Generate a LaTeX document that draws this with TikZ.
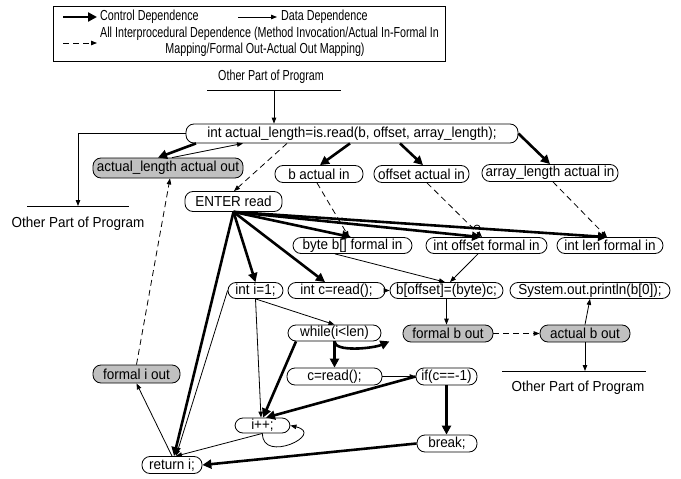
\documentclass[tikz,border=0pt]{standalone}
\usepackage{fontspec}
\setmainfont{Liberation Sans}
\newfontfamily\nodefnt[FakeStretch=0.93]{Liberation Sans}
\newfontfamily\legfont[FakeStretch=0.74]{Liberation Sans}
\usetikzlibrary{arrows.meta,calc}
\definecolor{ngray}{RGB}{192,192,192}
\begin{document}
\begin{tikzpicture}[x=1pt,y=-1pt,
  nf/.style={font=\nodefnt\fontsize{14.5}{16}\selectfont},
  lf/.style={font=\legfont\fontsize{14.5}{16}\selectfont},
  pn/.style={draw,line width=0.8pt,rounded corners=8pt,minimum height=17pt,inner xsep=2pt,inner ysep=0pt,nf},
  gn/.style={pn,fill=ngray},
  ctl/.style={line width=2.6pt,-{Triangle[length=9pt,width=9pt]}},
  dat/.style={line width=0.8pt,-{Triangle[length=6pt,width=4.5pt]}},
  ipd/.style={line width=0.8pt,dash pattern=on 6pt off 4pt,-{Triangle[length=6pt,width=4.5pt]}},
  bar/.style={line width=0.8pt}]
\useasboundingbox (0,0) rectangle (681,479);
% legend
\node[draw,line width=0.8pt,minimum width=392pt,minimum height=55pt,inner sep=0pt] (leg) at (249,33.5) {};
\coordinate (la1) at (63,17); \coordinate (lb1) at (97,17);
\coordinate (la2) at (238,17); \coordinate (lb2) at (277,17);
\coordinate (la3) at (63,43); \coordinate (lb3) at (97,43);
\draw[ctl] (la1) -- (lb1);
\draw[dat] (la2) -- (lb2);
\draw[ipd] (la3) -- (lb3);
\node[lf,anchor=west,inner sep=0pt] (t1) at (100,17) {Control Dependence};
\node[lf,anchor=west,inner sep=0pt] (t2) at (281,17) {Data Dependence};
\node[lf,anchor=west,inner sep=0pt] (t3) at (100,34) {All Interprocedural Dependence (Method Invocation/Actual In-Formal In};
\node[lf,inner sep=0pt] (t4) at (265,50) {Mapping/Formal Out-Actual Out Mapping)};
% other parts of program
\node[lf,inner sep=0pt] (op1) at (271,77) {Other Part of Program};
\coordinate (op1a) at (207,90); \coordinate (op1b) at (341,90); \coordinate (op1m) at (274,90);
\draw[bar] (op1a) -- (op1b);
\node[nf,inner sep=0pt] (op2) at (78,224) {Other Part of Program};
\coordinate (op2a) at (27,206); \coordinate (op2b) at (129,206); \coordinate (op2m) at (78,206);
\draw[bar] (op2a) -- (op2b);
\node[nf,inner sep=0pt] (op3) at (578,388) {Other Part of Program};
\coordinate (op3a) at (502,371); \coordinate (op3b) at (646,371);
\draw[bar] (op3a) -- (op3b);
% nodes
\node[pn,minimum width=332pt,minimum height=19pt] (call) at (352,133.5) {int actual\_length=is.read(b, offset, array\_length);};
\node[gn,minimum width=150pt,minimum height=20pt] (alout) at (168,168) {actual\_length actual out};
\node[pn,minimum width=88pt] (bai) at (319,174) {b actual in};
\node[pn,minimum width=95pt] (oai) at (421.5,174) {offset actual in};
\node[pn,minimum width=136pt] (aai) at (550,173) {array\_length actual in};
\node[pn,minimum width=97pt,minimum height=20pt] (enter) at (233.5,201.5) {ENTER read};
\node[pn,minimum width=119pt,minimum height=16pt] (bfi) at (352.5,245.5) {byte b[] formal in};
\node[pn,minimum width=121pt,minimum height=16pt] (ofi) at (486.5,245.5) {int offset formal in};
\node[pn,minimum width=106pt,minimum height=16pt] (lfi) at (610,245.5) {int len formal in};
\node[pn,minimum width=55pt,minimum height=16pt] (i1) at (255.5,290.5) {int i=1;};
\node[pn,minimum width=97pt,minimum height=16pt] (cr1) at (336.5,290.5) {int c=read();};
\node[pn,minimum width=113pt,minimum height=16pt] (boff) at (446.5,290.5) {b[offset]=(byte)c;};
\node[pn,minimum width=160pt,minimum height=16pt] (sys) at (590,290.5) {System.out.println(b[0]);};
\node[pn,minimum width=93pt,minimum height=16pt] (wh) at (334.5,333) {while(i<len)};
\node[gn,minimum width=90pt] (fbo) at (448,333.5) {formal b out};
\node[gn,minimum width=90pt] (abo) at (585,333.5) {actual b out};
\node[pn,minimum width=95pt] (cr2) at (334.5,376.5) {c=read();};
\node[pn,minimum width=61pt] (ifn) at (446.5,376.5) {if(c==-1)};
\node[pn,minimum width=55pt,minimum height=15pt] (ipp) at (262.5,425.5) {i++;};
\node[pn,minimum width=60pt] (brk) at (447,443.5) {break;};
\node[pn,minimum width=60pt] (ret) at (172,465) {return i;};
\node[gn,minimum width=87pt,minimum height=18pt] (fio) at (136.5,374) {formal i out};
% data dependence (thin)
\draw[dat] (op1m) -- (op1m |- call.north);
\draw[dat] (call.west) -| (op2m);
\draw[dat] (172,0 |- alout.north) -- (243,0 |- call.south);
\draw[dat] (i1.south) -- (wh.north);
\draw[dat] (i1.south) -- (261,0 |- ipp.north);
\draw[dat] (i1.west) -- (176,0 |- ret.north);
\draw[dat] (ipp.south) -- (176,0 |- ret.north);
\draw[dat] (ret.north) -- (fio.south);
\draw[dat] (ipp.south) .. controls (262,464) and (326,434) .. (ipp.east);
\draw[dat] (cr2.east) -- (ifn.west);
\draw[dat] (cr1.east) -- (boff.west);
\draw[dat] (335,0 |- bfi.south) -- (445,0 |- boff.north);
\draw[dat] (478,0 |- ofi.south) -- (450,0 |- boff.north);
\draw[dat] (boff.south) -- (boff.south |- fbo.north);
\draw[dat] (abo.north) -- (590,0 |- sys.south);
\draw[dat] (abo.south) -- (abo.south |- op3a);
% interprocedural (dashed)
\draw[ipd] (287,0 |- call.south) -- (234,0 |- enter.north);
\draw[ipd] (317,0 |- bai.south) -- (349,0 |- bfi.north);
\draw[ipd] (427,0 |- oai.south) -- (482,0 |- ofi.north);
\draw[ipd] (553,0 |- aai.south) -- (607,0 |- lfi.north);
\draw[ipd] (fio.north) -- (170,0 |- alout.south);
\draw[ipd] (fbo.east) -- (abo.west);
% control dependence (thick)
\draw[ctl] (196,0 |- call.south) -- (158,0 |- alout.north);
\draw[ctl] (350,0 |- call.south) -- (320,0 |- bai.north);
\draw[ctl] (400,0 |- call.south) -- (423,0 |- oai.north);
\draw[ctl] (call.east) -- (550,0 |- aai.north);
\draw[ctl] (enter.south) -- (351,0 |- bfi.north);
\draw[ctl] (enter.south) -- (481,0 |- ofi.north);
\draw[ctl] (enter.south) -- (607,0 |- lfi.north);
\draw[ctl] (enter.south) -- (i1.north);
\draw[ctl] (enter.south) -- (325,0 |- cr1.north);
\draw[ctl] (enter.south) -- (174,0 |- ret.north);
\draw[ctl] (296,0 |- wh.south) -- (263,0 |- ipp.north);
\draw[ctl] (wh.south) -- (wh.south |- cr2.north);
\draw[ctl] (wh.south) .. controls +(0,11) and +(-16,7) .. ([xshift=8pt]wh.south east);
\draw[ctl] (ifn.west) -- (266,0 |- ipp.north);
\draw[ctl] (ifn.south) -- (ifn.south |- brk.north);
\draw[ctl] (brk.west) -- (ret.east);
% line hops
\coordinate (h1) at (342,221); \coordinate (h2) at (477,228);
\draw[bar] ([xshift=-3pt]h1) arc[start angle=180,end angle=360,radius=3];
\draw[bar] ([xshift=-3pt]h2) arc[start angle=180,end angle=360,radius=3];
\end{tikzpicture}
\end{document}
